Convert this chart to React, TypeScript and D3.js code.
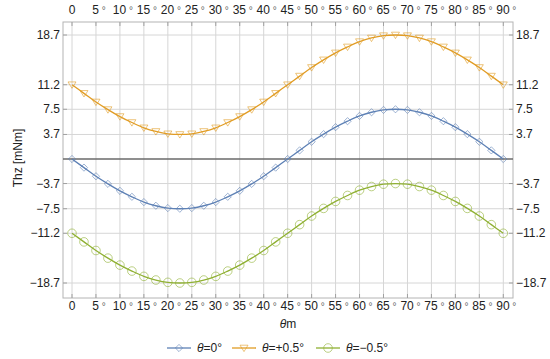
import React from "react";
import * as d3 from "d3";

// angle samples (deg), every 2.5°
const angles = [
  0, 2.5, 5, 7.5, 10, 12.5, 15, 17.5, 20, 22.5, 25, 27.5, 30, 32.5, 35, 37.5,
  40, 42.5, 45, 47.5, 50, 52.5, 55, 57.5, 60, 62.5, 65, 67.5, 70, 72.5, 75,
  77.5, 80, 82.5, 85, 87.5, 90,
];

// θ = 0°
const thz0 = [
  0, -1.3, -2.6, -3.75, -4.8, -5.7, -6.5, -7.05, -7.4, -7.5, -7.4, -7.05, -6.5,
  -5.7, -4.8, -3.75, -2.6, -1.3, 0, 1.3, 2.6, 3.75, 4.8, 5.7, 6.5, 7.05, 7.4,
  7.5, 7.4, 7.05, 6.5, 5.7, 4.8, 3.75, 2.6, 1.3, 0,
];
// θ = +0.5°
const thzPlus = [
  11.2, 9.9, 8.6, 7.45, 6.4, 5.5, 4.7, 4.15, 3.8, 3.7, 3.8, 4.15, 4.7, 5.5,
  6.4, 7.45, 8.6, 9.9, 11.2, 12.5, 13.8, 14.95, 16.0, 16.9, 17.7, 18.25, 18.6,
  18.7, 18.6, 18.25, 17.7, 16.9, 16.0, 14.95, 13.8, 12.5, 11.2,
];
// θ = -0.5°
const thzMinus = [
  -11.2, -12.5, -13.8, -14.95, -16.0, -16.9, -17.7, -18.25, -18.6, -18.7,
  -18.6, -18.25, -17.7, -16.9, -16.0, -14.95, -13.8, -12.5, -11.2, -9.9, -8.6,
  -7.45, -6.4, -5.5, -4.7, -4.15, -3.8, -3.7, -3.8, -4.15, -4.7, -5.5, -6.4,
  -7.45, -8.6, -9.9, -11.2,
];

const xTicks = [0, 5, 10, 15, 20, 25, 30, 35, 40, 45, 50, 55, 60, 65, 70, 75, 80, 85, 90];
const yTicks = [18.7, 11.2, 7.5, 3.7, -3.7, -7.5, -11.2, -18.7];
const seriesNames = ["=0°", "=+0.5°", "=\u22120.5°"];
const colors = ["#5E81B5", "#E19C24", "#8FB032"];

const W = 550;
const H = 359;
const frame = { left: 63, right: 513, top: 22, bottom: 298 };
const font = "'Liberation Sans', Arial, sans-serif";

const fmt = (v: number) => (v < 0 ? "\u2212" + Math.abs(v).toFixed(1) : v.toFixed(1));

function Marker({ kind, x, y, color }: { kind: number; x: number; y: number; color: string }) {
  const common = { fill: "none", stroke: color, strokeWidth: 1, strokeOpacity: 0.6 };
  if (kind === 0) {
    const s = 3.6;
    return <path d={`M${x},${y - s}L${x + s},${y}L${x},${y + s}L${x - s},${y}Z`} {...common} />;
  }
  if (kind === 1) {
    const s = 4;
    return <path d={`M${x - s},${y - s * 0.7}L${x + s},${y - s * 0.7}L${x},${y + s * 0.9}Z`} {...common} />;
  }
  return <circle cx={x} cy={y} r={4.3} {...common} />;
}

export default function App() {
  const x = d3.scaleLinear().domain([0, 90]).range([72, 503.3]);
  const y = d3.scaleLinear().domain([-18.7, 18.7]).range([283, 35]);
  const series = [thz0, thzPlus, thzMinus];

  const line = d3
    .line<number>()
    .x((_, i) => x(angles[i]))
    .y((d) => y(d))
    .curve(d3.curveCatmullRom);

  const legendX = [167, 232, 316];

  return (
    <svg width={W} height={H} style={{ position: "absolute", left: 0, top: 0 }} fontFamily={font}>
      <rect width={W} height={H} fill="#fff" />
      {/* grid */}
      {xTicks.map((t) => (
        <line key={"gx" + t} x1={x(t)} x2={x(t)} y1={frame.top} y2={frame.bottom} stroke="#d6d6d6" strokeWidth={1} />
      ))}
      {yTicks.map((t) => (
        <line key={"gy" + t} x1={frame.left} x2={frame.right} y1={y(t)} y2={y(t)} stroke="#d6d6d6" strokeWidth={1} />
      ))}
      {/* frame */}
      <rect
        x={frame.left}
        y={frame.top}
        width={frame.right - frame.left}
        height={frame.bottom - frame.top}
        fill="none"
        stroke="#b4b4b4"
        strokeWidth={1}
      />
      {/* ticks */}
      {xTicks.map((t) => (
        <g key={"tx" + t} stroke="#a0a0a0">
          <line x1={x(t)} x2={x(t)} y1={frame.top} y2={frame.top + 4} />
          <line x1={x(t)} x2={x(t)} y1={frame.bottom} y2={frame.bottom - 4} />
        </g>
      ))}
      {yTicks.map((t) => (
        <g key={"ty" + t} stroke="#a0a0a0">
          <line x1={frame.left} x2={frame.left + 4} y1={y(t)} y2={y(t)} />
          <line x1={frame.right} x2={frame.right - 4} y1={y(t)} y2={y(t)} />
        </g>
      ))}
      {/* zero line */}
      <line x1={frame.left} x2={frame.right} y1={y(0)} y2={y(0)} stroke="#6a6a6a" strokeWidth={1.3} />

      {/* tick labels */}
      {xTicks.map((t) => (
        <g key={"lx" + t} fontSize={12} fill="#222" textAnchor="middle">
          <text x={x(t) + (t === 0 ? 0 : 3)} y={14}>
            {t}
            {t === 0 ? null : <tspan fill="#666" fontSize={10}> °</tspan>}
          </text>
          <text x={x(t) + (t === 0 ? 0 : 3)} y={310}>
            {t}
            {t === 0 ? null : <tspan fill="#666" fontSize={10}> °</tspan>}
          </text>
        </g>
      ))}
      {yTicks.map((t) => (
        <g key={"ly" + t} fontSize={12} fill="#222">
          <text x={60} y={y(t) + 4} textAnchor="end">
            {fmt(t)}
          </text>
          <text x={516} y={y(t) + 4} textAnchor="start">
            {fmt(t)}
          </text>
        </g>
      ))}

      {/* series */}
      {series.map((s, k) => (
        <g key={"s" + k}>
          <path d={line(s) || ""} fill="none" stroke={colors[k]} strokeWidth={1.3} />
          {s.map((v, i) => (
            <Marker key={i} kind={k} x={x(angles[i])} y={y(v)} color={colors[k]} />
          ))}
        </g>
      ))}

      {/* axis labels */}
      <text x={22} y={158} fontSize={12} fill="#222" textAnchor="middle" transform="rotate(-90 22 158)">
        Thz [mNm]
      </text>
      <text x={288} y={328} fontSize={12} fill="#222" textAnchor="middle">
        <tspan fontStyle="italic">θ</tspan>m
      </text>

      {/* legend */}
      {seriesNames.map((n, k) => (
        <g key={"lg" + k}>
          <line x1={legendX[k]} x2={legendX[k] + 24} y1={348} y2={348} stroke={colors[k]} strokeWidth={1.3} />
          <Marker kind={k} x={legendX[k] + 12} y={348} color={colors[k]} />
          <text x={legendX[k] + 30} y={352} fontSize={12} fill="#222">
            <tspan fontStyle="italic">θ</tspan>
            {n}
          </text>
        </g>
      ))}
    </svg>
  );
}
